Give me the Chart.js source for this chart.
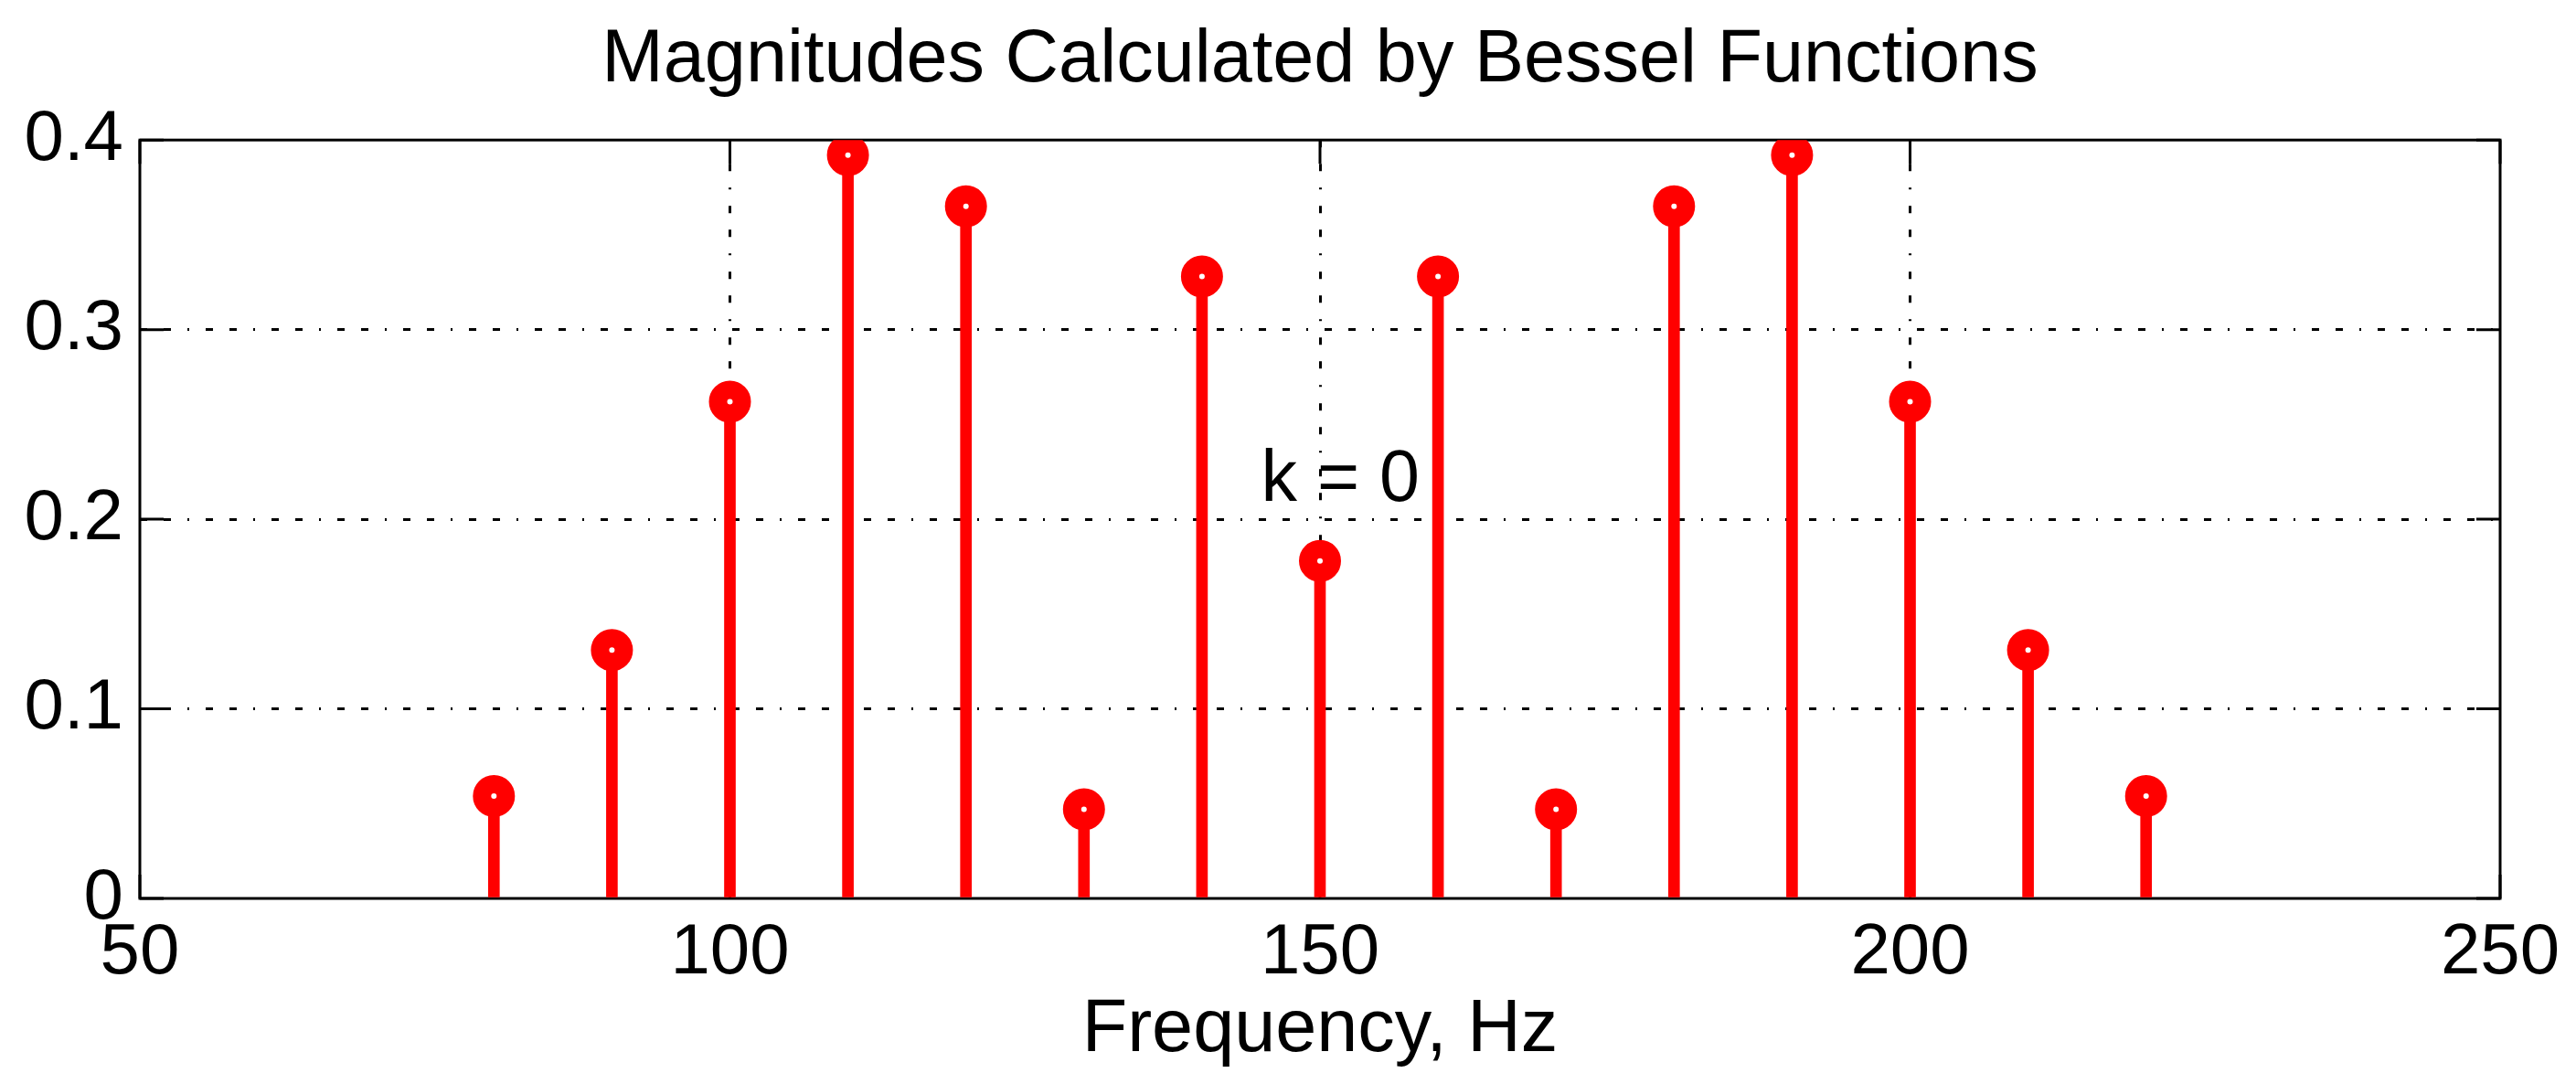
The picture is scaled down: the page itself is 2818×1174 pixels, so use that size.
<!DOCTYPE html>
<html>
<head>
<meta charset="utf-8">
<title>Magnitudes Calculated by Bessel Functions</title>
<script src="https://cdn.jsdelivr.net/npm/chart.js@4.4.1/dist/chart.umd.min.js"></script>
<style>
  html, body { margin: 0; padding: 0; background: #fff; }
  canvas { display: block; }
</style>
</head>
<body>
<canvas id="besselChart" width="2818" height="1174"></canvas>
<script>
// spectral lines of the FM signal, carrier at 150 Hz, 10 Hz spacing
const frequencies = [80, 90, 100, 110, 120, 130, 140, 150, 160, 170, 180, 190, 200, 210, 220];
const magnitudes = [0.054, 0.131, 0.262, 0.392, 0.365, 0.047, 0.328, 0.178, 0.328, 0.047, 0.365, 0.392, 0.262, 0.131, 0.054];

const xTicks = [50, 100, 150, 200, 250];
const yTicks = [0, 0.1, 0.2, 0.3, 0.4];
const yTickLabels = ["0", "0.1", "0.2", "0.3", "0.4"];

const noteText = "k = 0";
const noteAt = { x: 145, y: 0.22 };

const FONT = "'Liberation Sans', Arial, Helvetica, sans-serif";
const gridDash = [8, 18, 8, 18, 2, 18];

Chart.defaults.color = "#000";
Chart.defaults.font.family = FONT;

// interior grid lines only, the box edges are drawn by the frame plugin
function gridColor(ctx) {
  const n = ctx.scale.ticks.length;
  return ctx.index === 0 || ctx.index === n - 1 ? "rgba(0,0,0,0)" : "#000";
}

// solid axes box with inward tick marks on all four sides, plus the text note
const frameBox = {
  id: "frameBox",
  beforeDatasetsDraw(chart) {
    const { ctx, chartArea: a, scales: { x, y } } = chart;
    const len = 26;
    ctx.save();
    ctx.setLineDash([]);
    ctx.strokeStyle = "#000";
    ctx.lineWidth = 3;
    ctx.strokeRect(a.left, a.top, a.right - a.left, a.bottom - a.top);
    ctx.beginPath();
    x.ticks.forEach(t => {
      const px = x.getPixelForValue(t.value);
      ctx.moveTo(px, a.bottom);
      ctx.lineTo(px, a.bottom - len);
      ctx.moveTo(px, a.top);
      ctx.lineTo(px, a.top + len);
    });
    y.ticks.forEach(t => {
      const py = y.getPixelForValue(t.value);
      ctx.moveTo(a.left, py);
      ctx.lineTo(a.left + len, py);
      ctx.moveTo(a.right, py);
      ctx.lineTo(a.right - len, py);
    });
    ctx.stroke();
    ctx.restore();
  },
  afterDatasetsDraw(chart) {
    const { ctx, scales: { x, y } } = chart;
    ctx.save();
    ctx.font = "79px " + FONT;
    ctx.fillStyle = "#000";
    ctx.textAlign = "left";
    ctx.textBaseline = "middle";
    ctx.fillText(noteText, x.getPixelForValue(noteAt.x), y.getPixelForValue(noteAt.y));
    ctx.restore();
  }
};

const stems = frequencies.map((f, i) => ({ x: f, y: magnitudes[i] }));

new Chart(document.getElementById("besselChart"), {
  type: "scatter",
  data: {
    datasets: [
      {
        type: "bar",
        data: stems,
        backgroundColor: "#ff0000",
        barThickness: 12,
        borderWidth: 0,
        order: 2
      },
      {
        type: "scatter",
        data: stems,
        pointStyle: "circle",
        pointRadius: 13,
        pointBorderWidth: 20,
        pointBorderColor: "#ff0000",
        pointBackgroundColor: "#ffffff",
        order: 1
      }
    ]
  },
  options: {
    responsive: false,
    devicePixelRatio: 1,
    animation: false,
    layout: { padding: { left: 0, right: 83, top: 0, bottom: 0 } },
    plugins: {
      legend: { display: false },
      tooltip: { enabled: false },
      title: {
        display: true,
        fullSize: false,
        text: "Magnitudes Calculated by Bessel Functions",
        color: "#000",
        font: { size: 81, weight: "normal", lineHeight: 1.2 },
        padding: { top: 18, bottom: 38 }
      }
    },
    scales: {
      x: {
        type: "linear",
        min: 50,
        max: 250,
        offset: false,
        afterBuildTicks: s => { s.ticks = xTicks.map(v => ({ value: v })); },
        afterFit: s => { s.height = 1174 - 983; },
        ticks: { font: { size: 78 }, padding: 14, maxRotation: 0, color: "#000" },
        grid: { color: gridColor, lineWidth: 3, drawTicks: false, offset: false },
        border: { display: false, dash: gridDash },
        title: {
          display: true,
          text: "Frequency, Hz",
          color: "#000",
          font: { size: 81, lineHeight: 1.2 },
          padding: { top: 0, bottom: -2 }
        }
      },
      y: {
        min: 0,
        max: 0.4,
        afterBuildTicks: s => { s.ticks = yTicks.map(v => ({ value: v })); },
        afterFit: s => { s.width = 153; },
        ticks: {
          font: { size: 78 },
          padding: 18,
          color: "#000",
          callback: (v, i) => yTickLabels[i]
        },
        grid: { color: gridColor, lineWidth: 3, drawTicks: false },
        border: { display: false, dash: gridDash }
      }
    }
  },
  plugins: [frameBox]
});
</script>
</body>
</html>
